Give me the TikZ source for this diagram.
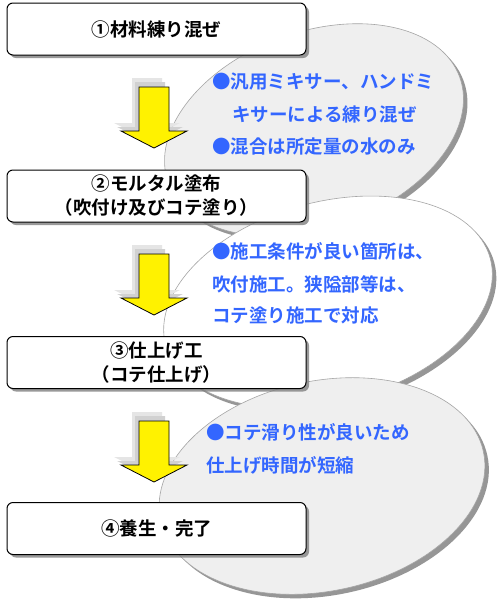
\documentclass[tikz,border=0pt]{standalone}
\usepackage{fontspec}
\setmainfont{Noto Sans CJK JP}[BoldFont={Noto Sans CJK JP Bold}]
\usetikzlibrary{shadows}
\definecolor{txtblue}{RGB}{51,102,255}
\definecolor{ellgray}{RGB}{239,239,239}
\definecolor{ellline}{RGB}{165,165,165}
\definecolor{shadowgray}{RGB}{150,150,150}
\begin{document}
\begin{tikzpicture}[x=1pt,y=-1pt,
  stepbox/.style={draw=black, line width=1pt, fill=white, rounded corners=6pt,
    minimum width=299pt, minimum height=52pt, align=center, inner sep=0pt,
    font=\fontsize{18.5}{24}\selectfont\bfseries,
    drop shadow={shadow xshift=3pt, shadow yshift=-3pt, fill=black!50, opacity=0.8}},
  notetext/.style={anchor=west, inner sep=0pt, text=txtblue,
    font=\fontsize{18.5}{20}\selectfont\bfseries},
  bubbleshadow/.style={fill=shadowgray},
  bubble/.style={draw=ellline, line width=0.6pt},
  dnarrow/.pic={
    \fill[black!10] (-22,-9) -- (8,-9) -- (8,36) -- (26,36) -- (-7,52) -- (-40,36) -- (-22,36) -- cycle;
    \fill[black!18] (-19,-5) -- (11,-5) -- (11,40) -- (29,40) -- (-4,56) -- (-37,40) -- (-19,40) -- cycle;
    \draw[fill=yellow, line width=0.8pt, line join=miter] (-15,0) -- (15,0) -- (15,44) -- (33,44) -- (0,61) -- (-33,44) -- (-15,44) -- cycle;
  }]
\useasboundingbox (0,0) rectangle (500,611);
\fill[white] (0,0) rectangle (500,611);

% bubble 1
\fill[bubbleshadow, rotate around={20:(318,134)}] (318,134) ellipse [x radius=155pt, y radius=98pt];
\filldraw[bubble, fill=ellgray, rotate around={20:(314,130)}] (314,130) ellipse [x radius=155pt, y radius=98pt];
% bubble 2
\fill[bubbleshadow, rotate around={15:(332,306)}] (332,306) ellipse [x radius=168pt, y radius=100pt];
\filldraw[bubble, fill=white, rotate around={15:(328,302)}] (328,302) ellipse [x radius=168pt, y radius=100pt];
% bubble 3
\fill[bubbleshadow, rotate around={12:(326,490)}] (326,490) ellipse [x radius=165pt, y radius=105pt];
\filldraw[bubble, fill=ellgray, rotate around={12:(322,486)}] (322,486) ellipse [x radius=165pt, y radius=105pt];

% arrows
\pic at (154,87) {dnarrow};
\pic at (154,254) {dnarrow};
\pic at (154,421) {dnarrow};

% boxes
\node[stepbox] (b1) at (156.5,29) {①材料練り混ぜ};
\node[stepbox] (b2) at (156.5,196) {②モルタル塗布\\（吹付け及びコテ塗り）};
\node[stepbox] (b3) at (156.5,362.5) {③仕上げ工\\（コテ仕上げ）};
\node[stepbox] (b4) at (156.5,528.5) {④養生・完了};

% notes
\node[notetext] (n11) at (212,82) {●汎用ミキサー、ハンドミ};
\node[notetext] (n12) at (232,114) {キサーによる練り混ぜ};
\node[notetext] (n13) at (212,147) {●混合は所定量の水のみ};
\node[notetext] (n21) at (212,251) {●施工条件が良い箇所は、};
\node[notetext] (n22) at (212,284) {吹付施工。狭隘部等は、};
\node[notetext] (n23) at (212,315) {コテ塗り施工で対応};
\node[notetext] (n31) at (206,432) {●コテ滑り性が良いため};
\node[notetext] (n32) at (206,465) {仕上げ時間が短縮};
\end{tikzpicture}
\end{document}
